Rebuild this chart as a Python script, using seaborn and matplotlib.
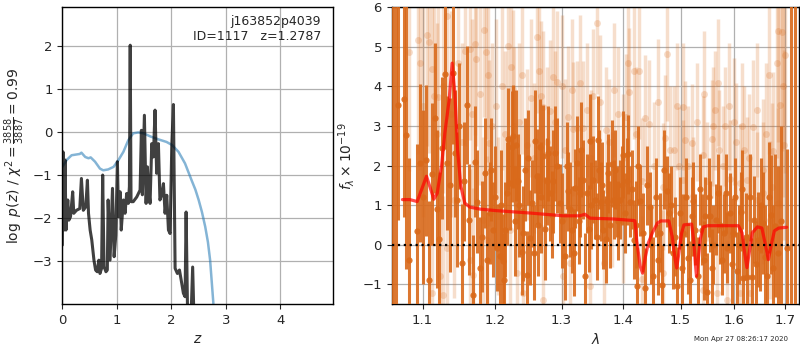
import matplotlib
matplotlib.use("Agg")
import matplotlib.pyplot as plt
import matplotlib.ticker as mticker
import seaborn as sns

sns.set_style("ticks")
plt.rcParams["font.family"] = ["DejaVu Sans"]
plt.rcParams["mathtext.fontset"] = "dejavusans"

# ---- left panel: p(z) ----
pz_z = [0.00, 0.012, 0.03, 0.05, 0.067, 0.10, 0.12, 0.15, 0.19, 0.21, 0.26, 0.32, 0.35, 0.385,
        0.43, 0.46, 0.48, 0.51, 0.54, 0.58, 0.61, 0.64, 0.67, 0.69, 0.72, 0.74, 0.765, 0.80,
        0.825, 0.84, 0.875, 0.92, 0.95, 0.98, 1.01, 1.03, 1.06, 1.08, 1.12, 1.15, 1.18, 1.21,
        1.23, 1.245, 1.26, 1.30, 1.365, 1.426, 1.45, 1.468, 1.505, 1.536, 1.56, 1.579, 1.609,
        1.64, 1.67, 1.70, 1.73, 1.762, 1.79, 1.82, 1.854, 1.884, 1.915, 1.946, 1.976, 2.007,
        2.037, 2.068, 2.11, 2.148, 2.19, 2.22, 2.251, 2.27, 2.30, 2.355, 2.39, 2.417, 2.45]
pz_log = [-2.62, -0.45, -2.27, -0.64, -2.27, -1.57, -2.04, -1.96, -1.38, -1.88, -1.81, -1.77,
          -1.07, -1.81, -1.73, -1.11, -1.88, -2.27, -2.50, -2.97, -3.20, -3.24, -2.97, -3.28,
          -3.16, -0.99, -3.12, -3.24, -3.20, -1.57, -2.97, -1.30, -2.89, -2.39, -0.68, -1.96,
          -1.38, -2.27, -1.57, -1.88, -1.42, -1.65, -1.26, 2.03, -1.61, -1.61, -1.50, -1.34,
          0.05, -1.45, 0.40, -1.65, -0.80, -1.26, -1.65, -0.26, -0.57, 0.52, -0.95, -0.26,
          -1.57, -1.46, -1.19, -1.88, -1.46, -2.27, -2.35, -0.33, 0.65, -3.16, -3.28, -3.20,
          -3.51, -3.74, -3.82, -1.85, -4.5, -4.5, -3.13, -4.5, -5.0]

chi_z = [0.00, 0.08, 0.17, 0.32, 0.35, 0.42, 0.48, 0.52, 0.60, 0.69, 0.75, 0.84, 0.94, 1.03,
         1.12, 1.21, 1.30, 1.39, 1.49, 1.61, 1.76, 1.91, 2.01, 2.13, 2.25, 2.37, 2.44, 2.50,
         2.56, 2.62, 2.67, 2.71, 2.77]
chi_log = [-0.80, -0.64, -0.53, -0.50, -0.47, -0.57, -0.60, -0.58, -0.68, -0.84, -0.88, -0.86,
           -0.80, -0.64, -0.45, -0.18, -0.02, 0.00, -0.02, -0.09, -0.16, -0.22, -0.29, -0.45,
           -0.72, -1.11, -1.33, -1.57, -1.85, -2.19, -2.55, -2.97, -3.98]

# ---- right panel: spectrum ----
dark_lam = [1.0615, 1.0650,
            1.0683, 1.0756, 1.0782, 1.0825, 1.0930, 1.0965, 1.1040, 1.1120, 1.1223, 1.1263,
            1.1304, 1.1331, 1.1413, 1.1436, 1.1459, 1.1528, 1.1598, 1.1635, 1.1682, 1.1747,
            1.1785, 1.1861, 1.1890, 1.1928, 1.1976, 1.2024, 1.2072, 1.2111, 1.2150, 1.2194,
            1.2218, 1.2243, 1.2268, 1.2307, 1.2341, 1.2391, 1.2416, 1.2466, 1.2516, 1.2541,
            1.2591, 1.2617, 1.2667, 1.2718, 1.2769, 1.2795, 1.2846, 1.2898, 1.2976, 1.3054,
            1.3107, 1.3159, 1.3212, 1.3249, 1.3292, 1.3334, 1.3372, 1.3409, 1.3452, 1.3495,
            1.3533, 1.3588, 1.3626, 1.3670, 1.3714, 1.3752, 1.3807, 1.3846, 1.3891, 1.3946,
            1.4002, 1.4087, 1.4115, 1.4183, 1.4240, 1.4286, 1.4372, 1.4459, 1.4517, 1.4605,
            1.4663, 1.4751, 1.4799, 1.4870, 1.4930, 1.4990, 1.5050, 1.5141, 1.5202, 1.5263,
            1.5324, 1.5386, 1.5448, 1.5491, 1.5541, 1.5603, 1.5653, 1.5697, 1.5760, 1.5804,
            1.5868, 1.5919, 1.5983, 1.6047, 1.6124, 1.6176, 1.6254, 1.6338, 1.6384, 1.6457,
            1.6503, 1.6569, 1.6649, 1.6716, 1.6810, 1.6871, 1.7055,
            1.1010, 1.1080, 1.1170, 1.1190, 1.1370, 1.1490, 1.1560, 1.1710, 1.1810, 1.1950,
            1.2000, 1.2090, 1.2130, 1.2170, 1.2290, 1.2360, 1.2440, 1.2490, 1.2570, 1.2640,
            1.2690, 1.2740, 1.2820, 1.2870, 1.2930, 1.3000, 1.3080, 1.3130, 1.3190, 1.3270,
            1.3310, 1.3430, 1.3470, 1.3560, 1.3600, 1.3650, 1.3730, 1.3780, 1.3870, 1.3920,
            1.3980, 1.4030, 1.4060, 1.4150, 1.4210, 1.4260, 1.4330, 1.4410, 1.4480, 1.4560,
            1.4630, 1.4700, 1.4830, 1.4900, 1.5020, 1.5100, 1.5170, 1.5230, 1.5350, 1.5420,
            1.5520, 1.5580, 1.5730, 1.5840, 1.5950, 1.6010, 1.6090, 1.6150, 1.6220, 1.6300,
            1.6420, 1.6530, 1.6610, 1.6680, 1.6760, 1.6930,
            1.7130, 1.7212]
dark_flux = [7.5, 7.5,
             3.53, 3.69, 2.78, -0.40, 0.34, 2.06, 2.13, 1.78, 0.15, 2.45,
             4.32, 2.06, 4.35, 2.31, 1.14, -0.46, 3.53, 0.63, -1.26, 1.09,
             -0.59, 1.81, -0.38, 0.80, 0.38, -0.08, -0.29, -0.42, 0.38, 2.67,
             1.56, 2.48, 2.74, 2.51, 1.60, -0.18, 0.29, -0.76, 0.17, 1.05,
             2.61, 1.73, 2.48, 2.23, 1.60, 2.31, 0.76, 2.31, 1.05, -0.29,
             1.35, 0.38, 1.43, 2.06, 1.30, 1.64, -0.80, 1.30, 2.61, 1.64,
             1.14, 2.65, 1.09, 0.38, 0.14, 1.81, 2.05, 1.14, 1.09, 1.14,
             2.27, 2.29, 1.09, 0.13, -1.05, 1.11, -1.09, 0.95, -0.80, -0.38,
             -1.01, 1.35, 0.80, -0.21, -1.05, 0.80, 0.29, -0.34, 0.72, 0.38,
             -0.80, 0.38, 0.72, -1.20, 0.72, 0.00, 0.63, 1.30, -0.38, 0.29,
             -0.08, 0.80, 0.29, -0.67, 0.83, -0.84, -0.82, -0.82, 0.63, 0.13,
             -0.08, 0.55, -0.80, 0.76, 0.48, -0.21, -0.08,
             1.2, -0.9, 3.2, 0.9, 1.5, 3.0, 1.6, 2.1, 0.2, 1.9,
             1.2, 1.0, -0.9, 1.3, 0.6, 1.0, 1.9, 2.2, -0.2, 0.5,
             1.2, 0.4, 1.3, 1.6, 2.0, 0.6, 2.0, 0.9, -0.2, 0.6,
             2.4, 0.4, 1.0, 0.2, 1.9, 1.5, 1.1, 0.5, 1.9, 0.6,
             1.5, 0.8, 1.6, 1.4, 0.5, 2.0, 0.3, 1.5, 0.0, 1.2,
             0.3, 1.9, 1.0, 0.2, -0.6, 1.2, -0.9, 1.1, 1.4, -0.4,
             1.2, -0.6, 0.5, 1.3, -0.5, 1.2, 0.0, 1.4, 0.2, 1.2,
             -0.5, 1.0, -0.3, 1.2, -0.6, 0.6,
             7.5, 7.5]
dark_err = [9.0, 9.0,
            2.9, 3.0, 3.4, 2.6, 2.2, 2.0, 1.9, 1.8, 1.7, 1.8,
            1.9, 1.7, 1.8, 1.6, 1.7, 1.5, 1.5, 1.4, 1.5, 1.3,
            1.3, 1.4, 1.2, 1.3, 1.2, 1.1, 1.3, 1.2, 1.2, 1.3,
            1.2, 1.4, 1.3, 1.4, 1.2, 1.1, 1.2, 1.1, 1.2, 1.1,
            1.3, 1.2, 1.2, 1.3, 1.1, 1.2, 1.1, 1.2, 1.0, 1.1,
            1.0, 1.1, 1.0, 1.2, 1.1, 1.0, 1.1, 1.0, 1.2, 1.1,
            1.0, 1.1, 1.0, 1.0, 1.1, 1.0, 1.1, 1.0, 0.9, 1.0,
            1.1, 1.0, 0.9, 1.0, 1.0, 0.9, 1.0, 0.9, 1.0, 0.9,
            1.0, 0.9, 1.0, 0.9, 1.0, 0.9, 1.0, 0.9, 1.0, 0.9,
            1.0, 0.9, 1.0, 1.0, 0.9, 1.0, 0.9, 1.0, 0.9, 1.0,
            0.9, 1.0, 0.9, 1.0, 1.0, 1.0, 1.1, 1.0, 1.1, 1.2,
            1.1, 1.3, 1.3, 1.5, 1.8, 2.2, 2.5,
            2.2, 2.0, 1.9, 2.0, 2.2, 1.6, 1.5, 1.4, 1.4, 1.3,
            1.3, 1.4, 1.2, 1.3, 1.4, 1.3, 1.3, 1.2, 1.2, 1.3,
            1.4, 1.3, 1.2, 1.3, 1.2, 1.2, 1.1, 1.2, 1.1, 1.1,
            1.2, 1.1, 1.1, 1.1, 1.0, 1.1, 1.0, 1.1, 1.0, 1.0,
            1.0, 1.0, 1.1, 1.0, 1.1, 1.0, 1.0, 1.0, 1.0, 1.0,
            1.0, 1.0, 1.0, 1.0, 1.0, 1.0, 1.0, 1.0, 0.9, 1.0,
            1.0, 1.0, 1.0, 1.0, 1.0, 1.0, 1.0, 1.0, 1.1, 1.1,
            1.1, 1.2, 1.3, 1.4, 1.6, 2.4,
            9.0, 9.0]

light_lam = [1.0820, 1.0943, 1.1053, 1.1080, 1.0965, 1.1120, 1.1151, 1.1209, 1.1331, 1.1574,
             1.1644, 1.1723, 1.1737, 1.1842, 1.1871, 1.1919, 1.1953, 1.2184, 1.2263, 1.2283,
             1.2466, 1.2617, 1.2678, 1.2718, 1.2820, 1.2861, 1.2934, 1.3107, 1.3186, 1.3238,
             1.3345, 1.3506, 1.3560, 1.3714, 1.3846, 1.4047, 1.4087, 1.4104, 1.4183, 1.4274,
             1.4314, 1.4448, 1.4763, 1.4811, 1.4882, 1.4978, 1.5038, 1.5086, 1.5202, 1.5417,
             1.5429, 1.5572, 1.5591, 1.5697, 1.5716, 1.5823, 1.5919, 1.5996, 1.6112, 1.6189,
             1.6241, 1.6372, 1.6569, 1.6770, 1.6837, 1.6871, 1.6938, 1.6905, 1.6986,
             1.1234, 1.1120, 1.1275, 1.1331, 1.1424, 1.1644, 1.1691, 1.1832, 1.1880, 1.2048,
             1.2218, 1.2317, 1.2416, 1.2718, 1.3027, 1.3133, 1.3452, 1.3681, 1.3807, 1.4002,
             1.4314, 1.4681, 1.4692, 1.5050, 1.5232, 1.5417, 1.5666, 1.5855, 1.6112, 1.6306,
             1.6437, 1.6569, 1.6703, 1.6736, 1.6871,
             1.1000, 1.1190, 1.1280, 1.1380, 1.1480, 1.1540, 1.1680, 1.1780, 1.1900, 1.2010,
             1.2100, 1.2140, 1.2240, 1.2350, 1.2390, 1.2530, 1.2580, 1.2650, 1.2780, 1.2900,
             1.3000, 1.3060, 1.3160, 1.3290, 1.3400, 1.3470, 1.3620, 1.3770, 1.3920, 1.4000,
             1.4220, 1.4370, 1.4530, 1.4600, 1.4720, 1.4940, 1.5130, 1.5300, 1.5490, 1.5630,
             1.5780, 1.5890, 1.6040, 1.6150, 1.6280, 1.6450, 1.6620, 1.6690, 1.6960, 1.7000]
light_flux = [4.86, 5.18, 5.30, 5.13, 4.59, 4.44, 3.75, 3.73, 5.77, 4.90,
              4.94, 5.08, 4.69, 5.43, 4.86, 2.57, 3.00, 5.03, 3.93, 2.99,
              2.53, 5.24, 3.75, 3.49, 3.37, 4.23, 4.12, 3.22, 2.92, 2.95,
              2.95, 3.75, 5.60, 2.90, 3.91, 3.22, 4.59, 3.87, 4.38, 4.38,
              1.60, 3.06, 4.82, 2.40, 2.40, 1.98, 3.49, 2.65, 2.57, 2.27,
              3.80, 2.67, 2.99, 4.10, 2.40, 2.99, 1.66, 3.11, 1.56, 2.40,
              1.64, 2.97, 1.89, 2.36, 4.59, 5.39, 5.37, 3.53, 2.53,
              -0.80, -1.22, -1.26, -0.08, 1.14, -0.38, -0.76, 0.63, 0.13, 0.72,
              0.38, -0.72, -1.22, -1.39, -0.80, -0.46, -1.05, -0.46, 1.14, 0.63,
              -0.88, -0.72, 1.47, 1.64, 1.22, -1.14, -1.22, -1.39, -1.22, -1.22,
              1.14, 1.30, 0.63, 1.47, 1.05,
              3.5, 2.8, 4.0, 3.3, 4.6, 2.6, 3.3, 3.8, 4.3, 3.5,
              4.0, 2.8, 4.5, 3.1, 4.3, 3.7, 2.2, 4.4, 2.6, 3.1,
              4.0, 2.4, 3.9, 4.1, 3.4, 2.2, 3.6, 2.6, 3.3, 2.2,
              2.8, 3.2, 2.0, 3.6, 2.7, 3.5, 2.0, 3.1, 1.6, 3.4,
              2.0, 3.5, 2.6, 3.0, 2.2, 3.4, 2.8, 4.3, 4.0, 4.8]
light_err = [3.0, 2.9, 2.8, 2.8, 2.7, 2.6, 2.5, 2.5, 2.6, 2.4,
             2.3, 2.3, 2.2, 2.2, 2.2, 2.1, 2.1, 2.0, 2.0, 2.0,
             1.9, 1.9, 1.9, 1.9, 1.8, 1.8, 1.8, 1.8, 1.7, 1.7,
             1.7, 1.7, 1.8, 1.6, 1.7, 1.6, 1.7, 1.6, 1.7, 1.7,
             1.6, 1.6, 1.7, 1.6, 1.6, 1.5, 1.6, 1.5, 1.5, 1.5,
             1.6, 1.5, 1.5, 1.6, 1.5, 1.5, 1.5, 1.6, 1.5, 1.6,
             1.6, 1.7, 1.8, 2.0, 2.4, 2.8, 3.0, 2.6, 2.4,
             2.6, 2.7, 2.5, 2.5, 2.5, 2.3, 2.2, 2.1, 2.1, 2.0,
             2.0, 1.9, 1.9, 1.9, 1.8, 1.8, 1.7, 1.7, 1.7, 1.6,
             1.6, 1.6, 1.6, 1.5, 1.5, 1.5, 1.5, 1.5, 1.6, 1.6,
             1.7, 1.8, 2.0, 2.1, 2.4,
             2.8, 2.8, 2.7, 2.6, 2.5, 2.5, 2.4, 2.3, 2.2, 2.2,
             2.1, 2.1, 2.0, 2.0, 2.0, 2.0, 1.9, 1.9, 1.9, 1.8,
             1.8, 1.8, 1.8, 1.7, 1.7, 1.7, 1.7, 1.6, 1.7, 1.6,
             1.7, 1.6, 1.6, 1.6, 1.6, 1.6, 1.5, 1.5, 1.5, 1.5,
             1.5, 1.6, 1.5, 1.6, 1.6, 1.7, 1.8, 2.0, 2.8, 3.0]

model_lam = [1.0738, 1.0834, 1.0930, 1.0987, 1.1053, 1.1097, 1.1151, 1.1196, 1.1254, 1.1299,
             1.1358, 1.1399, 1.1436, 1.1473, 1.1519, 1.1574, 1.1644, 1.1785, 1.2024, 1.2516,
             1.3027, 1.3291, 1.3371, 1.3452, 1.3835, 1.4181, 1.4200, 1.4230, 1.4290, 1.4331,
             1.4380, 1.4429, 1.4500, 1.4590, 1.4650, 1.4790, 1.4850, 1.4900, 1.4930, 1.4970,
             1.5020, 1.5060, 1.5200, 1.5240, 1.5270, 1.5290, 1.5320, 1.5360, 1.5417, 1.5500,
             1.6080, 1.6150, 1.6200, 1.6245, 1.6290, 1.6350, 1.6450, 1.6540, 1.6610, 1.6669,
             1.6720, 1.6790, 1.6880, 1.7040]
model_flux = [1.14, 1.14, 1.09, 1.39, 1.73, 1.47, 1.15, 1.30, 1.98, 2.82,
              3.66, 4.59, 3.83, 2.40, 1.47, 1.05, 0.95, 0.90, 0.86, 0.80,
              0.73, 0.73, 0.77, 0.67, 0.65, 0.61, 0.60, 0.10, -0.55, -0.72,
              -0.30, 0.04, 0.30, 0.55, 0.60, 0.60, 0.20, -0.35, -0.59, -0.20,
              0.30, 0.50, 0.52, 0.10, -0.50, -0.80, -0.40, 0.15, 0.45, 0.48,
              0.48, 0.30, -0.20, -0.58, -0.20, 0.30, 0.45, 0.42, 0.00, -0.38,
              -0.05, 0.35, 0.42, 0.44]

lam_ticks = [1.1, 1.2, 1.3, 1.4, 1.5, 1.6, 1.7]
orange = "#d9691a"

fig = plt.figure(figsize=(8, 3.5), dpi=100)
ax1 = fig.add_axes([0.0779, 0.1314, 0.3388, 0.8476])
ax2 = fig.add_axes([0.4896, 0.1314, 0.5095, 0.8476])

# p(z) panel
sns.lineplot(x=chi_z, y=chi_log, ax=ax1, color="#1f77b4", alpha=0.55, lw=1.8,
             sort=False, estimator=None)
sns.lineplot(x=pz_z, y=pz_log, ax=ax1, color="k", alpha=0.75, lw=2.2,
             sort=False, estimator=None)
ax1.set_xlim(0, 4.97)
ax1.set_ylim(-3.99, 2.91)
ax1.set_xticks([0, 1, 2, 3, 4])
ax1.set_yticks([-3, -2, -1, 0, 1, 2])
ax1.grid(True, color="#b0b0b0", lw=0.9)
ax1.set_xlabel(r"$z$", fontsize=10)
ax1.set_ylabel(r"$\log\ p(z)$ / $\chi^2=\frac{3858}{3887}=0.99$", fontsize=10)
ax1.text(0.955, 0.975, "j163852p4039\nID=1117   z=1.2787", transform=ax1.transAxes,
         ha="right", va="top", fontsize=9)

# spectrum panel
ax2.errorbar(light_lam, light_flux, yerr=light_err, fmt="o", color=orange, alpha=0.22,
             ms=5, elinewidth=2.5, capsize=0, mec="none", zorder=2)
ax2.errorbar(dark_lam, dark_flux, yerr=dark_err, fmt="o", color=orange, alpha=0.9,
             ms=4.5, elinewidth=2.2, capsize=0, mec="none", zorder=3)
sns.lineplot(x=model_lam, y=model_flux, ax=ax2, color="red", alpha=0.7, lw=2.3,
             sort=False, estimator=None, zorder=5)
ax2.axhline(0, color="k", ls=":", lw=1.6, zorder=6)
ax2.set_xscale("log")
ax2.set_xlim(1.06, 1.73)
ax2.set_ylim(-1.5, 6)
ax2.xaxis.set_major_locator(mticker.FixedLocator(lam_ticks))
ax2.xaxis.set_major_formatter(mticker.FormatStrFormatter("%.1f"))
ax2.xaxis.set_minor_locator(mticker.NullLocator())
ax2.set_yticks([-1, 0, 1, 2, 3, 4, 5, 6])
ax2.grid(True, color="#b0b0b0", lw=0.9, zorder=1)
ax2.set_axisbelow(True)
ax2.set_xlabel(r"$\lambda$", fontsize=10)
ax2.set_ylabel(r"$f_\lambda\times10^{-19}$", fontsize=10)

for ax in (ax1, ax2):
    ax.tick_params(labelsize=9.5, length=3.5, width=0.8, direction="out")
    for s in ax.spines.values():
        s.set_linewidth(1.0)
        s.set_color("k")

fig.text(0.985, 0.03, "Mon Apr 27 08:26:17 2020", ha="right", va="center", fontsize=5)

fig.savefig("out.png", dpi=100)
